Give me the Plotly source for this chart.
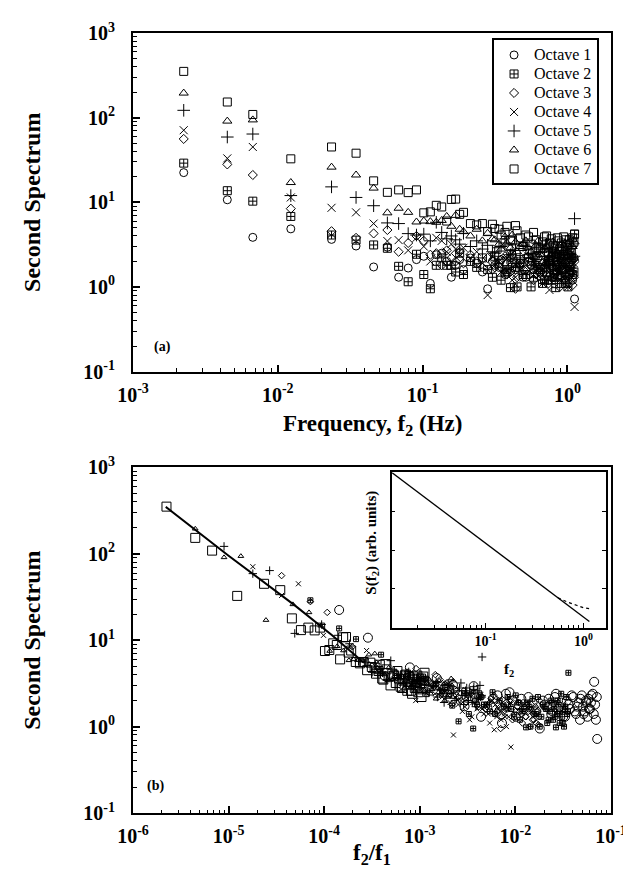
import plotly.graph_objects as go

# ---------------- data ----------------
freq_hz = [0.00224, 0.00448, 0.00672, 0.0123, 0.0235, 0.0347, 0.0459, 0.0571, 0.0683, 0.0795, 0.0907,
           0.1019, 0.1131, 0.1243, 0.1355, 0.1467, 0.1579, 0.1691, 0.1803, 0.1915, 0.2139, 0.2363,
           0.2587, 0.2811, 0.3035, 0.3371, 0.3707, 0.4043, 0.4379, 0.4715, 0.5163, 0.5611, 0.6059,
           0.6507, 0.6955, 0.7515, 0.8075, 0.8635, 0.9195, 0.9755, 1.0419, 1.0867, 1.1203,
           0.3147, 0.3483, 0.3819, 0.4155, 0.4491, 0.4939, 0.5387, 0.5835, 0.6283, 0.6731, 0.7179,
           0.7403, 0.7739, 0.7963, 0.8299, 0.8523, 0.8859, 0.9083, 0.9419, 0.9643, 1.0083, 1.0307,
           1.0643, 1.1091]

octave1 = [22.4, 10.7, 3.85, 4.85, 3.64, 3.04, 1.72, 2.94, 1.3, 1.67, 2.1,
           2.3, 1.1, 2.4, 2.5, 2.0, 1.3, 1.8, 2.1, 1.6, 2.2, 1.9, 1.5, 0.95, 2.0, 1.7, 1.4, 2.2,
           1.6, 1.9, 1.3, 1.8, 2.3, 1.5, 1.7, 2.1, 1.4, 1.9, 1.6, 2.3, 3.3, 1.2, 0.72,
           1.8, 2.1, 1.5, 2.4, 1.7, 1.3, 2.0, 1.6, 2.2, 1.4, 1.9, 1.2, 2.3, 1.7, 1.5, 2.0, 1.3,
           2.1, 1.6, 1.9, 2.4, 1.4, 1.8, 2.2]
octave2 = [29, 13.7, 10.3, 6.8, 4.1, 3.57, 3.13, 2.86, 1.75, 1.15, 2.43,
           1.4, 0.95, 1.8, 2.2, 1.8, 1.8, 1.5, 2.5, 1.4, 2.0, 1.7, 2.2, 1.6, 1.3, 1.9, 1.5, 0.98,
           1.7, 2.1, 1.4, 1.0, 1.8, 1.6, 1.2, 1.9, 1.3, 2.0, 1.5, 1.1, 1.7, 1.4, 4.2,
           2.3, 1.2, 1.6, 1.9, 1.0, 1.4, 2.2, 1.3, 1.7, 1.1, 1.5, 2.0, 1.2, 1.6, 0.98, 1.4,
           1.8, 1.1, 2.4, 1.3, 1.0, 1.6, 2.2, 1.5]
octave3 = [56, 28, 21, 8.4, 4.55, 3.8, 4.28, 4.7, 2.6, 3.3, 4.0,
           3.5, 2.4, 2.5, 1.8, 2.7, 2.2, 2.0, 2.6, 1.9, 2.4, 2.0, 1.7, 2.2, 1.6, 1.9, 2.3, 1.5,
           0.95, 1.8, 1.6, 2.0, 1.4, 1.7, 1.5, 1.9, 1.3, 1.6, 1.8, 1.2, 1.5, 1.05, 2.0,
           1.7, 2.1, 1.4, 1.8, 1.3, 1.6, 2.0, 1.2, 1.5, 1.9, 1.4, 1.1, 1.7, 1.3, 1.8, 1.5,
           1.0, 1.6, 1.2, 1.4, 1.7, 1.1, 1.5, 1.3]
octave4 = [71, 33, 45, 11.4, 8.6, 7.6, 5.6, 3.48, 3.57, 2.7, 3.8,
           3.0, 2.0, 3.8, 3.5, 2.6, 3.2, 2.8, 2.4, 2.9, 2.2, 2.6, 1.9, 0.8, 2.3, 2.0, 1.7, 2.4,
           1.3, 1.9, 2.1, 1.6, 1.8, 1.4, 2.0, 0.92, 1.7, 1.5, 1.9, 1.3, 1.6, 1.8, 0.58,
           1.8, 1.5, 2.2, 1.2, 1.9, 1.6, 2.3, 1.4, 1.7, 1.1, 2.0, 1.5, 1.8, 1.3, 1.6, 2.1,
           1.2, 1.5, 1.8, 1.4, 1.0, 1.7, 1.3, 1.9]
octave5 = [122, 59, 64, 12, 15.2, 11.4, 9.1, 5.7, 5.6, 4.26, 4.1,
           4.2, 3.5, 5.8, 4.4, 3.7, 4.0, 3.6, 3.2, 4.3, 3.0, 3.5, 2.8, 3.1, 2.6, 2.9, 3.3, 2.4,
           2.7, 2.2, 3.0, 2.5, 2.1, 2.8, 2.3, 2.6, 2.0, 2.4, 2.9, 2.1, 2.5, 2.2, 6.4,
           2.5, 3.0, 2.2, 2.7, 1.9, 3.1, 2.4, 2.0, 2.6, 3.2, 1.8, 2.3, 2.8, 2.0, 2.5, 2.2,
           1.9, 2.7, 2.4, 1.7, 2.6, 2.1, 3.0, 2.3]
octave6 = [195, 91, 94, 17.1, 26, 21, 14.7, 7.5, 8.5, 7.6, 5.85,
           6.0, 5.9, 5.8, 6.1, 6.8, 5.2, 7.0, 4.8, 4.5, 4.0, 4.8, 3.5, 4.3, 3.7, 3.2, 3.9, 2.9,
           3.4, 3.0, 3.5, 2.6, 3.1, 2.4, 2.9, 3.3, 2.7, 2.5, 3.2, 2.2, 2.9, 3.0, 3.4,
           3.6, 2.8, 3.3, 4.1, 2.6, 3.2, 2.9, 2.3, 3.5, 2.7, 3.0, 2.1, 2.8, 3.4, 2.4, 2.6,
           3.1, 2.0, 2.7, 3.3, 2.3, 2.5, 3.6, 2.2]
octave7 = [352, 153, 109, 32.6, 45, 38, 17.9, 13.1, 14, 13, 14,
           7.5, 7.7, 9.2, 8.8, 6.0, 10.8, 10.9, 7.2, 7.6, 5.6, 5.4, 5.6, 4.5, 5.5, 4.8, 4.4, 3.6,
           5.3, 3.8, 4.1, 3.2, 3.6, 2.8, 3.9, 3.3, 2.6, 3.5, 3.0, 3.6, 2.2, 3.8, 4.2,
           4.9, 4.1, 5.2, 3.5, 4.6, 3.0, 3.9, 4.4, 2.9, 3.4, 4.0, 2.6, 3.7, 3.1, 2.4, 3.8,
           2.8, 3.3, 3.9, 2.5, 3.2, 3.6, 2.7, 3.4]

octave_names = ["Octave 1", "Octave 2", "Octave 3", "Octave 4", "Octave 5", "Octave 6", "Octave 7"]
octave_f1 = [15.625, 31.25, 62.5, 125, 250, 500, 1000]   # centre frequency of each octave (Hz)

fit_x = [2.2e-6, 1e-5, 5e-5, 1.2e-4, 2.6e-4]
fit_y = [350, 95, 25, 11.5, 5.5]

inset_f = [0.011, 0.03, 0.1, 0.3, 0.6, 1.15]
inset_s = [10, 1.49, 0.151, 0.0187, 0.0050, 0.00145]
inset_dash_f = [0.55, 0.7, 0.85, 1.0, 1.15]
inset_dash_s = [0.0059, 0.0045, 0.0038, 0.0033, 0.0031]

y_ticks = [0.1, 1, 10, 100, 1000]
y_ticktext = ["10<sup>-1</sup>", "10<sup>0</sup>", "10<sup>1</sup>", "10<sup>2</sup>", "10<sup>3</sup>"]
xa_ticks = [0.001, 0.01, 0.1, 1]
xa_ticktext = ["10<sup>-3</sup>", "10<sup>-2</sup>", "10<sup>-1</sup>", "10<sup>0</sup>"]
xb_ticks = [1e-6, 1e-5, 1e-4, 1e-3, 1e-2, 1e-1]
xb_ticktext = ["10<sup>-6</sup>", "10<sup>-5</sup>", "10<sup>-4</sup>", "10<sup>-3</sup>",
               "10<sup>-2</sup>", "10<sup>-1</sup>"]
xi_ticks = [0.1, 1]
xi_ticktext = ["10<sup>-1</sup>", "10<sup>0</sup>"]

# ---------------- styling ----------------
FONT = "Liberation Serif"
octaves = [octave1, octave2, octave3, octave4, octave5, octave6, octave7]
symbols = ["circle-open", "square-cross-open", "diamond-open", "x-thin-open",
           "cross-thin-open", "triangle-up-open", "square-open"]
size_a = [8, 8, 7, 8, 9, 8, 8]
size_b = [9, 5, 5, 5, 6, 5, 9]

fig = go.Figure()

for i, vals in enumerate(octaves):
    fig.add_trace(go.Scatter(
        x=freq_hz, y=vals, mode="markers",
        name=f"<span style='font-size:16px'>{octave_names[i]}</span>",
        marker=dict(symbol=symbols[i], size=size_a[i], color="black",
                    line=dict(color="black", width=1)),
        xaxis="x", yaxis="y", showlegend=True))

for i, vals in enumerate(octaves):
    fig.add_trace(go.Scatter(
        x=[f / octave_f1[i] for f in freq_hz], y=vals, mode="markers",
        marker=dict(symbol=symbols[i], size=size_b[i], color="black",
                    line=dict(color="black", width=1)),
        xaxis="x2", yaxis="y2", showlegend=False))

fig.add_trace(go.Scatter(x=fit_x, y=fit_y, mode="lines", line=dict(color="black", width=2),
                         xaxis="x2", yaxis="y2", showlegend=False))

fig.add_trace(go.Scatter(x=inset_f, y=inset_s, mode="lines", line=dict(color="black", width=1.3),
                         xaxis="x3", yaxis="y3", showlegend=False))
fig.add_trace(go.Scatter(x=inset_dash_f, y=inset_dash_s, mode="lines",
                         line=dict(color="black", width=1.3, dash="dot"),
                         xaxis="x3", yaxis="y3", showlegend=False))

tickfont = dict(family=FONT, size=20, color="black", weight="bold")


def main_axis(**kw):
    d = dict(type="log", showline=True, linecolor="black", linewidth=2, mirror=True,
             ticks="inside", ticklen=7, tickwidth=1.5, tickcolor="black",
             showgrid=False, zeroline=False, tickfont=tickfont,
             minor=dict(ticks="inside", ticklen=3.5, tickwidth=1, tickcolor="black",
                        dtick="D1", showgrid=False))
    d.update(kw)
    return d


ya_dom = [0.566, 1.0]
yb_dom = [0.0, 0.443]

fig.update_layout(
    width=631, height=869,
    margin=dict(l=125, r=21, t=15, b=64),
    paper_bgcolor="white", plot_bgcolor="white",
    font=dict(family=FONT, color="black"),
    xaxis=main_axis(domain=[0, 1], anchor="y", range=[-3, 0.301],
                    tickvals=xa_ticks, ticktext=[f"<b>{t}</b>" for t in xa_ticktext],
                    ticklabelstandoff=4),
    yaxis=main_axis(domain=ya_dom, anchor="x", range=[-1, 3],
                    tickvals=y_ticks, ticktext=[f"<b>{t}</b>" for t in y_ticktext],
                    ticklabelstandoff=12),
    xaxis2=main_axis(domain=[0, 1], anchor="y2", range=[-6, -1],
                     tickvals=xb_ticks, ticktext=[f"<b>{t}</b>" for t in xb_ticktext],
                     ticklabelstandoff=4),
    yaxis2=main_axis(domain=yb_dom, anchor="x2", range=[-1, 3],
                     tickvals=y_ticks, ticktext=[f"<b>{t}</b>" for t in y_ticktext],
                     ticklabelstandoff=12),
    xaxis3=dict(type="log", domain=[0.541, 0.989], anchor="y3", range=[-1.96, 0.228],
                showline=True, linecolor="black", linewidth=1.5, mirror=True,
                ticks="inside", ticklen=5, tickcolor="black", showgrid=False, zeroline=False,
                tickvals=xi_ticks, ticktext=[f"<b>{t}</b>" for t in xi_ticktext],
                tickfont=dict(family=FONT, size=14, color="black"),
                minor=dict(ticks="inside", ticklen=3, tickcolor="black", dtick="D1",
                           showgrid=False)),
    yaxis3=dict(type="log", domain=[0.2375, 0.4366], anchor="x3", range=[-3, 1],
                showline=True, linecolor="black", linewidth=1.5, mirror="ticks",
                ticks="inside", ticklen=4, tickcolor="black", showgrid=False, zeroline=False,
                showticklabels=False, dtick=1),
    legend=dict(x=0.975, y=0.993, xanchor="right", yanchor="top",
                bordercolor="black", borderwidth=2, bgcolor="white",
                font=dict(family=FONT, size=12, color="black"),
                tracegroupgap=0, itemsizing="trace"),
    annotations=[
        dict(text="<b>Second Spectrum</b>", textangle=-90, xref="paper", yref="paper",
             x=-0.21, y=(ya_dom[0] + ya_dom[1]) / 2, xanchor="center", yanchor="middle",
             showarrow=False, font=dict(family=FONT, size=24, color="black")),
        dict(text="<b>Second Spectrum</b>", textangle=-90, xref="paper", yref="paper",
             x=-0.21, y=(yb_dom[0] + yb_dom[1]) / 2, xanchor="center", yanchor="middle",
             showarrow=False, font=dict(family=FONT, size=24, color="black")),
        dict(text="<b>Frequency, f<sub>2</sub> (Hz)</b>", xref="paper", yref="paper",
             x=0.5, y=0.497, xanchor="center", yanchor="middle", showarrow=False,
             font=dict(family=FONT, size=23, color="black")),
        dict(text="<b>f<sub>2</sub>/f<sub>1</sub></b>", xref="paper", yref="paper",
             x=0.5, y=-0.052, xanchor="center", yanchor="middle", showarrow=False,
             font=dict(family=FONT, size=23, color="black")),
        dict(text="<b>(a)</b>", xref="x domain", yref="y domain", x=0.04, y=0.073,
             xanchor="left", yanchor="middle", showarrow=False,
             font=dict(family=FONT, size=14, color="black")),
        dict(text="<b>(b)</b>", xref="x2 domain", yref="y2 domain", x=0.025, y=0.077,
             xanchor="left", yanchor="middle", showarrow=False,
             font=dict(family=FONT, size=14, color="black")),
        dict(text="<b>S(f<sub>2</sub>) (arb. units)</b>", textangle=-90, xref="x3 domain",
             yref="y3 domain", x=-0.09, y=0.55, xanchor="center", yanchor="middle",
             showarrow=False, font=dict(family=FONT, size=15, color="black")),
        dict(text="<b>f<sub>2</sub></b>", xref="x3 domain", yref="y3 domain", x=0.55, y=-0.27,
             xanchor="center", yanchor="middle", showarrow=False,
             font=dict(family=FONT, size=15, color="black")),
    ],
)

fig.write_html("out.html")
